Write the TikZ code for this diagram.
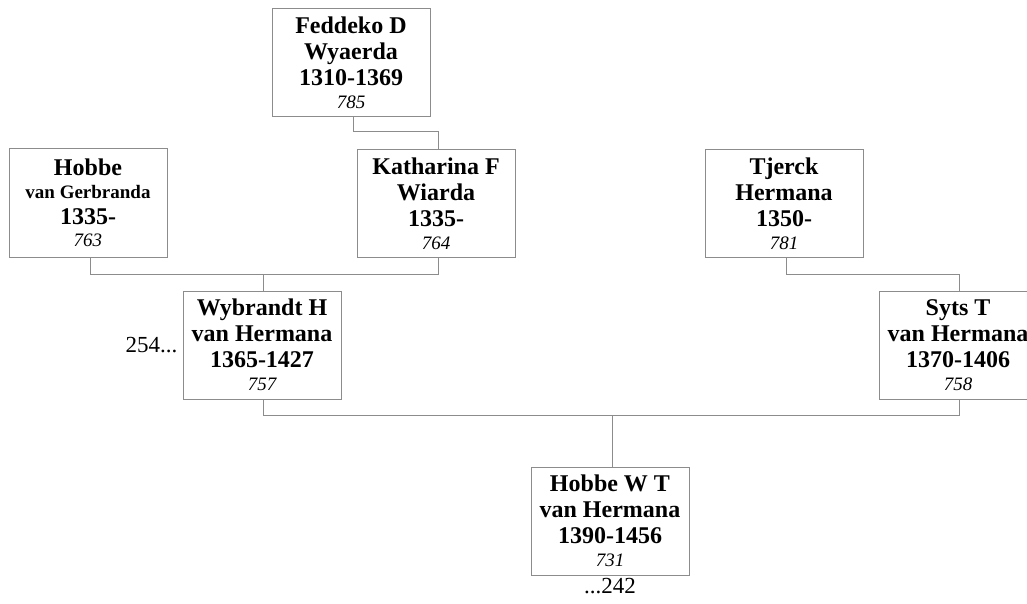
\documentclass[tikz,border=0pt]{standalone}
\usepackage{fontspec}
\setmainfont{Liberation Serif}
\definecolor{linegray}{RGB}{140,140,140}
\newcommand{\namefont}{\fontsize{24}{26}\selectfont\bfseries}
\newcommand{\smallname}{\fontsize{19}{22}\selectfont\bfseries}
\newcommand{\numfont}{\fontsize{19}{22}\selectfont\mdseries\itshape}
\begin{document}
\begin{tikzpicture}[x=1pt,y=-1pt,
  person/.style={draw=linegray, line width=1pt, minimum width=158pt, minimum height=108pt,
    inner sep=0pt, align=center, font=\namefont, text=black},
  link/.style={draw=linegray, line width=1pt},
  extra/.style={font=\fontsize{23}{26}\selectfont, inner sep=0pt}]
\useasboundingbox (0,0) rectangle (1027,604);
\node[person] (fed) at (351,62.5) {Feddeko D\\Wyaerda\\1310-1369\\[-3pt]{\numfont 785}};
\node[person] (hob) at (88,203) {Hobbe\\[-3pt]{\smallname van Gerbranda}\\1335-\\[-4pt]{\numfont 763}};
\node[person] (kat) at (436,203.5) {Katharina F\\Wiarda\\1335-\\[-3pt]{\numfont 764}};
\node[person] (tje) at (784,203.5) {Tjerck\\Hermana\\1350-\\[-3pt]{\numfont 781}};
\node[person] (wyb) at (262,345) {Wybrandt H\\van Hermana\\1365-1427\\[-3pt]{\numfont 757}};
\node[person] (syt) at (958,345) {Syts T\\van Hermana\\1370-1406\\[-3pt]{\numfont 758}};
\node[person] (hwt) at (610,521) {Hobbe W T\\van Hermana\\1390-1456\\[-3pt]{\numfont 731}};
\node[extra, anchor=east] (l254) at ([xshift=-5pt]wyb.west) {254...};
\node[extra, anchor=north] (l242) at ([yshift=-3pt]hwt.south) {...242};
% Feddeko -> Katharina
\draw[link] ([xshift=2pt]fed.south) -- ++(0,15) -| ([xshift=2pt]kat.north);
% Hobbe + Katharina -> Wybrandt
\draw[link] ([xshift=2pt]hob.south) -- ([xshift=2pt]hob.south |- 0,274)
  -- ([xshift=2pt]kat.south |- 0,274) -- ([xshift=2pt]kat.south);
\draw[link] ([xshift=1pt]wyb.north) -- ([xshift=1pt]wyb.north |- 0,274);
% Tjerck -> Syts
\draw[link] ([xshift=2pt]tje.south) -- ([xshift=2pt]tje.south |- 0,274)
  -- ([xshift=1pt]syt.north |- 0,274) -- ([xshift=1pt]syt.north);
% Wybrandt + Syts -> Hobbe W T
\draw[link] ([xshift=1pt]wyb.south) -- ([xshift=1pt]wyb.south |- 0,415)
  -- ([xshift=1pt]syt.south |- 0,415) -- ([xshift=1pt]syt.south);
\draw[link] ([xshift=2pt]hwt.north) -- ([xshift=2pt]hwt.north |- 0,415);
\end{tikzpicture}
\end{document}
